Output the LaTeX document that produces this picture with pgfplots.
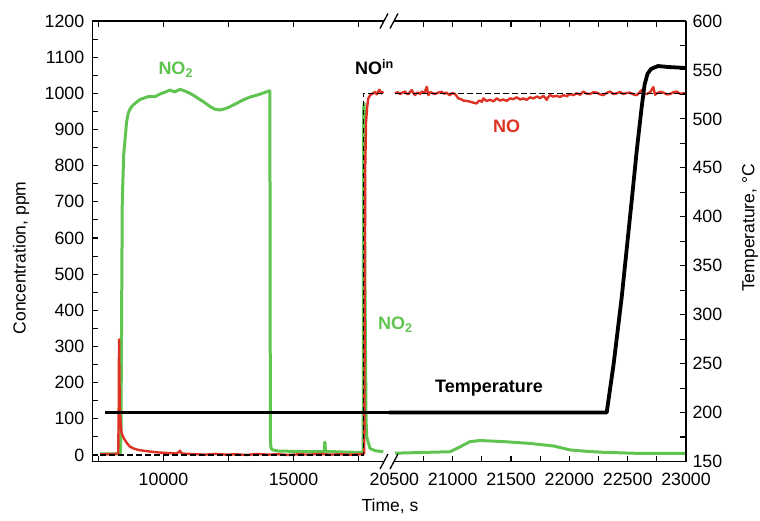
\documentclass[border=0pt]{standalone}
\usepackage{fontspec}
\setmainfont{Liberation Sans}
\usepackage{pgfplots}
\pgfplotsset{compat=1.18}

\definecolor{no2green}{RGB}{96,196,80}
\definecolor{nored}{RGB}{222,50,36}

\newcommand{\tickfont}{\fontsize{17.8}{20}\selectfont}
\newcommand{\labfont}{\fontsize{17.5}{20}\selectfont}
\newcommand{\annfont}{\fontsize{18}{21}\selectfont\bfseries}

\pgfplotsset{
  concaxis/.style={
    scale only axis, anchor=south west, height=440.5pt,
    ymin=-18, ymax=1200,
    axis line style={black, line width=1.4pt},
    tick style={black, line width=1.1pt},
    major tick length=6pt, minor tick length=6pt,
    tick align=inside,
    ticklabel style={font=\tickfont},
    scaled x ticks=false, scaled y ticks=false,
    /pgf/number format/assume math mode=true,
    /pgf/number format/1000 sep={},
    xticklabel style={yshift=-8pt},
    yticklabel style={xshift=-4.5pt},
  },
  tempaxis/.style={
    scale only axis, anchor=south west, height=440.5pt,
    ymin=150, ymax=600,
    axis line style={black, line width=1.4pt},
    tick style={black, line width=1.1pt},
    major tick length=6pt, minor tick length=6pt,
    tick align=inside,
    ticklabel style={font=\tickfont},
    scaled y ticks=false,
    /pgf/number format/assume math mode=true,
    yticklabel style={xshift=3pt},
  },
  no2/.style={no2green, line width=3pt, line join=round},
  no/.style={nored, line width=2.4pt, line join=round},
  noin/.style={black, line width=1.5pt, dash pattern=on 5.5pt off 3.5pt},
  temp/.style={black, line width=3.8pt, line join=round},
}

\begin{document}
\begin{tikzpicture}[x=1pt,y=1pt]
\path[use as bounding box] (0,0) rectangle (760,520);

% ---------- first time window: concentrations ----------
\begin{axis}[concaxis, at={(92.3pt,58.5pt)}, width=296.7pt,
  xmin=7262, xmax=18673,
  axis y line*=left,
  xtick={10000,15000}, minor xtick={7500,12500,17500},
  xtick pos=both, xticklabel pos=lower,
  ytick={0,100,...,1200}, minor ytick={50,150,...,1150},
]
\addplot[no2] coordinates {
(7560,3) (8300,3) (8340,5) (8365,60) (8390,400) (8415,705) (8470,830)
(8519,871) (8580,920) (8646,946) (8740,960) (8838,968) (9096,983)
(9415,991) (9673,991) (9865,998) (10050,1003) (10250,1009) (10350,1006)
(10442,1004) (10540,1008) (10635,1011) (10800,1007) (11019,1000)
(11250,990) (11531,977) (11800,963) (11981,956) (12173,954) (12350,957)
(12558,963) (12800,972) (13069,982) (13300,989) (13585,995) (13850,1001)
(14069,1007) (14090,1007) (14100,600) (14110,50) (14130,20) (14200,14)
(14400,11) (15000,10) (16000,9) (16180,9) (16200,35) (16215,35)
(16228,10) (17000,8) (17680,7) (17700,960) (17720,972) (17745,500)
(17790,100) (17815,50) (17942,18) (18134,12) (18454,9)
};
\addplot[no] coordinates {
(7560,2) (8200,3) (8260,5) (8280,150) (8290,320) (8300,250) (8320,130)
(8360,80) (8392,60) (8450,50) (8519,41) (8600,32) (8711,23) (8850,18)
(9031,14) (9300,11) (9546,9) (9800,7) (10000,6) (10315,5) (10500,4)
(10600,9) (10635,12) (10700,4) (11000,3) (11300,2) (11596,1) (12000,3)
(12400,1) (12800,2) (13200,0) (13600,3) (14000,1) (14400,2) (14800,0)
(15200,2) (15600,1) (16000,3) (16400,1) (16800,2) (17200,1) (17600,2)
(17690,3) (17720,5) (17740,400) (17760,800) (17790,920) (17830,960)
(17877,986) (17950,995) (18050,1000) (18134,1004) (18200,997)
(18300,1010) (18380,1000) (18454,1005)
};
\addplot[noin] coordinates {
(7560,0) (17684,0) (17684,1000) (18454,1000)
};
\end{axis}

% ---------- first time window: temperature ----------
\begin{axis}[tempaxis, at={(92.3pt,58.5pt)}, width=296.7pt,
  xmin=7262, xmax=18673, hide axis]
\addplot[temp] coordinates {(7750,200) (18673,200)};
\end{axis}

% ---------- second time window: concentrations ----------
\begin{axis}[concaxis, at={(389pt,58.5pt)}, width=297pt,
  xmin=20454, xmax=23000,
  axis y line=none,
  xtick={21000,21500,...,23000}, minor xtick={20750,21250,...,22750},
  extra x ticks={20500}, extra x tick style={major tick length=0pt},
  xtick pos=both, xticklabel pos=lower,
]
\addplot[no2] coordinates {
(20506,5) (20977,9) (21060,22) (21149,37) (21235,40) (21434,37)
(21663,32) (21863,25) (22006,14) (22150,10) (22289,7.5) (22578,4.6)
(23000,4.6)
};
\addplot[no] coordinates {
(20506,1000) (20528,1003) (20549,998) (20570,1002) (20592,1005)
(20606,999) (20620,998) (20635,1004) (20649,1009) (20663,1001)
(20677,995) (20692,1001) (20706,1002) (20720,998) (20735,1005)
(20757,1001) (20778,1018) (20791,995) (20806,1003) (20820,1002)
(20842,998) (20863,1000) (20885,1003) (20906,1004) (20928,999)
(20949,1002) (20963,997) (20977,995) (20998,1001) (21020,998)
(21035,992) (21049,986) (21070,984) (21091,980) (21120,979)
(21149,977) (21178,974) (21206,972) (21220,978) (21235,980)
(21250,976) (21263,986) (21290,979) (21320,982) (21350,978)
(21378,986) (21405,980) (21434,983) (21463,979) (21492,986)
(21520,984) (21549,989) (21578,983) (21606,986) (21634,982)
(21663,989) (21692,986) (21721,991) (21750,987) (21777,993)
(21792,988) (21806,982) (21820,990) (21835,995) (21863,991)
(21892,993) (21920,990) (21949,995) (21978,992) (22006,998)
(22035,995) (22063,1000) (22092,996) (22120,1005) (22148,999)
(22177,998) (22206,1003) (22235,1002) (22263,997) (22291,995)
(22320,1001) (22349,1005) (22378,998) (22406,1000) (22435,1004)
(22463,998) (22492,1001) (22520,1002) (22549,997) (22578,995)
(22600,1002) (22620,1009) (22641,999) (22663,998) (22692,1003)
(22720,1017) (22735,996) (22749,1000) (22778,1004) (22806,1002)
(22835,997) (22863,998) (22892,1003) (22920,1005) (22948,999)
(22977,1000) (23000,1000)
};
\addplot[noin] coordinates {(20506,1000) (23000,1000)};
\end{axis}

% ---------- second time window: temperature, right-hand scale ----------
\begin{axis}[tempaxis, at={(389pt,58.5pt)}, width=297pt,
  xmin=20454, xmax=23000,
  axis y line*=right, axis x line=none,
  ytick={150,200,...,600}, minor ytick={175,225,...,575},
]
\addplot[temp] coordinates {
(20454,200) (22320,200) (22380,250) (22449,318) (22535,417)
(22578,468) (22620,512) (22645,535) (22670,546) (22700,551)
(22760,554) (22850,553) (23000,552)
};
\end{axis}

% axis break marks
\foreach \yy in {58.5,499} {
  \fill[white] (384,\yy-2.5) rectangle (394,\yy+2.5);
  \draw[black, line width=1.3pt] (380,\yy-7.5) -- (388,\yy+7.5);
  \draw[black, line width=1.3pt] (390,\yy-7.5) -- (398,\yy+7.5);
}

% axis titles
\node[font=\labfont] at (390,14) {Time, s};
\node[font=\labfont, rotate=90] at (21,262) {Concentration, ppm};
\node[font=\labfont, rotate=90] at (750,292) {Temperature, °C};

% curve labels
\node[font=\annfont, text=no2green, anchor=base west, inner sep=0pt] at (158.3,445) {NO\textsubscript{2}};
\node[font=\annfont, anchor=base west, inner sep=0pt] at (355,445) {NO\textsuperscript{in}};
\node[font=\annfont, text=nored, anchor=base west, inner sep=0pt] at (493,387) {NO};
\node[font=\annfont, text=no2green, anchor=base west, inner sep=0pt] at (378,190.5) {NO\textsubscript{2}};
\node[font=\annfont, anchor=base west, inner sep=0pt] at (435,127.7) {Temperature};
\end{tikzpicture}
\end{document}
